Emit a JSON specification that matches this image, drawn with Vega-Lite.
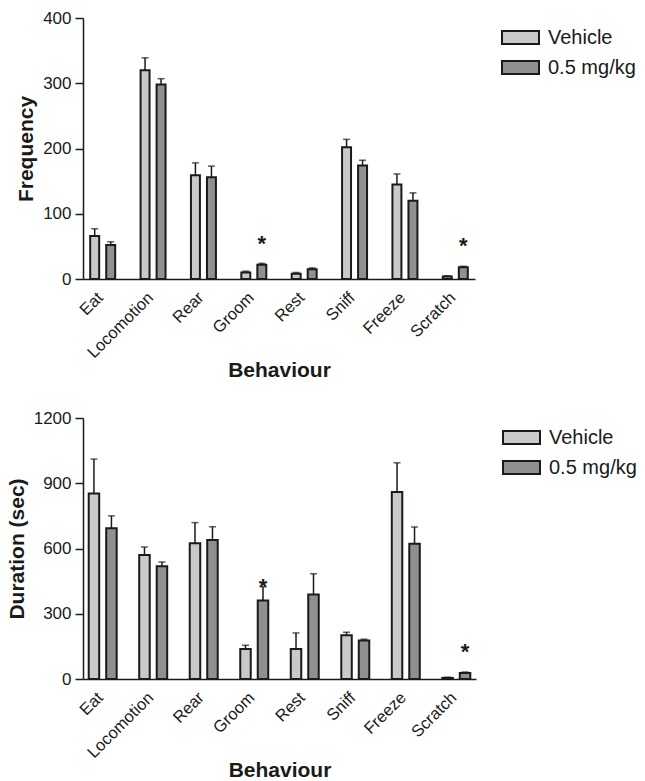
{
  "$schema": "https://vega.github.io/schema/vega-lite/v6.json",
  "padding": {"left": 6, "top": 9, "right": 2, "bottom": 0},
  "background": "white",
  "config": {
    "font": "Liberation Sans",
    "view": {"stroke": null},
    "axis": {"grid": false, "domainColor": "#1a1a1a", "domainWidth": 1.5, "tickColor": "#1a1a1a", "tickWidth": 1.5, "labelColor": "#1a1a1a", "titleColor": "#1a1a1a"},
    "legend": {"padding": 0}
  },
  "datasets": {
    "freq": [
      {"behaviour": "Eat", "group": "Vehicle", "value": 66, "err": 77},
      {"behaviour": "Eat", "group": "0.5 mg/kg", "value": 52, "err": 57},
      {"behaviour": "Locomotion", "group": "Vehicle", "value": 320, "err": 339},
      {"behaviour": "Locomotion", "group": "0.5 mg/kg", "value": 298, "err": 307},
      {"behaviour": "Rear", "group": "Vehicle", "value": 159, "err": 178},
      {"behaviour": "Rear", "group": "0.5 mg/kg", "value": 156, "err": 173},
      {"behaviour": "Groom", "group": "Vehicle", "value": 10, "err": 12},
      {"behaviour": "Groom", "group": "0.5 mg/kg", "value": 22, "err": 24},
      {"behaviour": "Rest", "group": "Vehicle", "value": 8, "err": 10},
      {"behaviour": "Rest", "group": "0.5 mg/kg", "value": 15, "err": 17},
      {"behaviour": "Sniff", "group": "Vehicle", "value": 202, "err": 214},
      {"behaviour": "Sniff", "group": "0.5 mg/kg", "value": 174, "err": 182},
      {"behaviour": "Freeze", "group": "Vehicle", "value": 145, "err": 161},
      {"behaviour": "Freeze", "group": "0.5 mg/kg", "value": 120, "err": 132},
      {"behaviour": "Scratch", "group": "Vehicle", "value": 4, "err": 5},
      {"behaviour": "Scratch", "group": "0.5 mg/kg", "value": 18, "err": 19.5}
    ],
    "freqStars": [
      {"behaviour": "Groom", "group": "0.5 mg/kg", "pos": 61},
      {"behaviour": "Scratch", "group": "0.5 mg/kg", "pos": 59}
    ],
    "dur": [
      {"behaviour": "Eat", "group": "Vehicle", "value": 853, "err": 1011},
      {"behaviour": "Eat", "group": "0.5 mg/kg", "value": 693, "err": 750},
      {"behaviour": "Locomotion", "group": "Vehicle", "value": 570, "err": 607},
      {"behaviour": "Locomotion", "group": "0.5 mg/kg", "value": 518, "err": 538},
      {"behaviour": "Rear", "group": "Vehicle", "value": 624, "err": 719},
      {"behaviour": "Rear", "group": "0.5 mg/kg", "value": 639, "err": 700},
      {"behaviour": "Groom", "group": "Vehicle", "value": 138, "err": 155},
      {"behaviour": "Groom", "group": "0.5 mg/kg", "value": 361, "err": 424},
      {"behaviour": "Rest", "group": "Vehicle", "value": 138, "err": 212},
      {"behaviour": "Rest", "group": "0.5 mg/kg", "value": 389, "err": 484},
      {"behaviour": "Sniff", "group": "Vehicle", "value": 201, "err": 215},
      {"behaviour": "Sniff", "group": "0.5 mg/kg", "value": 177, "err": 183},
      {"behaviour": "Freeze", "group": "Vehicle", "value": 860, "err": 994},
      {"behaviour": "Freeze", "group": "0.5 mg/kg", "value": 622, "err": 699},
      {"behaviour": "Scratch", "group": "Vehicle", "value": 5, "err": 8},
      {"behaviour": "Scratch", "group": "0.5 mg/kg", "value": 28, "err": 32}
    ],
    "durStars": [
      {"behaviour": "Groom", "group": "0.5 mg/kg", "pos": 448},
      {"behaviour": "Scratch", "group": "0.5 mg/kg", "pos": 148}
    ]
  },
  "resolve": {"scale": {"color": "independent", "x": "independent", "xOffset": "independent", "y": "independent"}, "legend": {"color": "independent"}},
  "spacing": 28,
  "vconcat": [
    {
      "width": 392,
      "height": 261,
      "encoding": {
        "x": {"field": "behaviour", "type": "nominal", "sort": ["Eat", "Locomotion", "Rear", "Groom", "Rest", "Sniff", "Freeze", "Scratch"],
          "scale": {"paddingInner": 0.504, "paddingOuter": 0.143},
          "axis": {"title": "Behaviour", "labelAngle": -45, "labelOffset": -8, "labelFontSize": 16.5, "ticks": false, "labelPadding": 10, "titleFontSize": 21, "titleFontWeight": "bold", "titlePadding": -1}},
        "xOffset": {"field": "group", "type": "nominal", "sort": ["Vehicle", "0.5 mg/kg"], "scale": {"paddingInner": 0.44, "paddingOuter": 0}}
      },
      "layer": [
        {
          "data": {"name": "freq"},
          "mark": {"type": "rule", "color": "#1a1a1a", "strokeWidth": 1.5},
          "encoding": {
            "y": {"field": "value", "type": "quantitative", "scale": {"domain": [0, 400], "nice": false}, "axis": {"title": "Frequency", "values": [0, 100, 200, 300, 400], "format": "d", "labelFontSize": 17, "titleFontSize": 21, "titleFontWeight": "bold", "titlePadding": 6, "tickSize": 8, "labelPadding": 4}},
            "y2": {"field": "err"}
          }
        },
        {
          "data": {"name": "freq"},
          "mark": {"type": "tick", "color": "#1a1a1a", "size": 7, "thickness": 1.5, "orient": "horizontal"},
          "encoding": {"y": {"field": "err", "type": "quantitative"}}
        },
        {
          "data": {"name": "freq"},
          "mark": {"type": "bar", "stroke": "#1a1a1a", "strokeWidth": 2},
          "encoding": {
            "y": {"field": "value", "type": "quantitative"},
            "color": {"field": "group", "type": "nominal", "sort": ["Vehicle", "0.5 mg/kg"],
              "scale": {"domain": ["Vehicle", "0.5 mg/kg"], "range": ["#c8c9cb", "#8f9092"]},
              "legend": {"title": null, "orient": "right", "offset": 26, "symbolType": "M -1 -0.35 L 1 -0.35 L 1 0.35 L -1 0.35 Z", "symbolSize": 1369, "symbolStrokeColor": "#1a1a1a", "symbolStrokeWidth": 2, "symbolOpacity": 1, "labelFontSize": 20, "labelOffset": 8, "rowPadding": -6, "labelColor": "#1a1a1a"}}
          }
        },
        {
          "data": {"name": "freqStars"},
          "mark": {"type": "text", "text": "*", "fontSize": 22, "fontWeight": "bold", "baseline": "alphabetic", "dy": 12, "color": "#1a1a1a"},
          "encoding": {"y": {"field": "pos", "type": "quantitative"}}
        }
      ]
    },
    {
      "width": 393,
      "height": 261,
      "encoding": {
        "x": {"field": "behaviour", "type": "nominal", "sort": ["Eat", "Locomotion", "Rear", "Groom", "Rest", "Sniff", "Freeze", "Scratch"],
          "scale": {"paddingInner": 0.446, "paddingOuter": 0.113},
          "axis": {"title": "Behaviour", "labelAngle": -45, "labelOffset": -8, "labelFontSize": 16.5, "ticks": false, "labelPadding": 10, "titleFontSize": 21, "titleFontWeight": "bold", "titlePadding": -1}},
        "xOffset": {"field": "group", "type": "nominal", "sort": ["Vehicle", "0.5 mg/kg"], "scale": {"paddingInner": 0.4, "paddingOuter": 0}}
      },
      "layer": [
        {
          "data": {"name": "dur"},
          "mark": {"type": "rule", "color": "#1a1a1a", "strokeWidth": 1.5},
          "encoding": {
            "y": {"field": "value", "type": "quantitative", "scale": {"domain": [0, 1200], "nice": false}, "axis": {"title": "Duration (sec)", "values": [0, 300, 600, 900, 1200], "format": "d", "labelFontSize": 17, "titleFontSize": 21, "titleFontWeight": "bold", "titlePadding": 6, "tickSize": 8, "labelPadding": 4}},
            "y2": {"field": "err"}
          }
        },
        {
          "data": {"name": "dur"},
          "mark": {"type": "tick", "color": "#1a1a1a", "size": 7, "thickness": 1.5, "orient": "horizontal"},
          "encoding": {"y": {"field": "err", "type": "quantitative"}}
        },
        {
          "data": {"name": "dur"},
          "mark": {"type": "bar", "stroke": "#1a1a1a", "strokeWidth": 2},
          "encoding": {
            "y": {"field": "value", "type": "quantitative"},
            "color": {"field": "group", "type": "nominal", "sort": ["Vehicle", "0.5 mg/kg"],
              "scale": {"domain": ["Vehicle", "0.5 mg/kg"], "range": ["#c8c9cb", "#8f9092"]},
              "legend": {"title": null, "orient": "right", "offset": 26, "symbolType": "M -1 -0.35 L 1 -0.35 L 1 0.35 L -1 0.35 Z", "symbolSize": 1369, "symbolStrokeColor": "#1a1a1a", "symbolStrokeWidth": 2, "symbolOpacity": 1, "labelFontSize": 20, "labelOffset": 8, "rowPadding": -6, "labelColor": "#1a1a1a"}}
          }
        },
        {
          "data": {"name": "durStars"},
          "mark": {"type": "text", "text": "*", "fontSize": 22, "fontWeight": "bold", "baseline": "alphabetic", "dy": 12, "color": "#1a1a1a"},
          "encoding": {"y": {"field": "pos", "type": "quantitative"}}
        }
      ]
    }
  ]
}
